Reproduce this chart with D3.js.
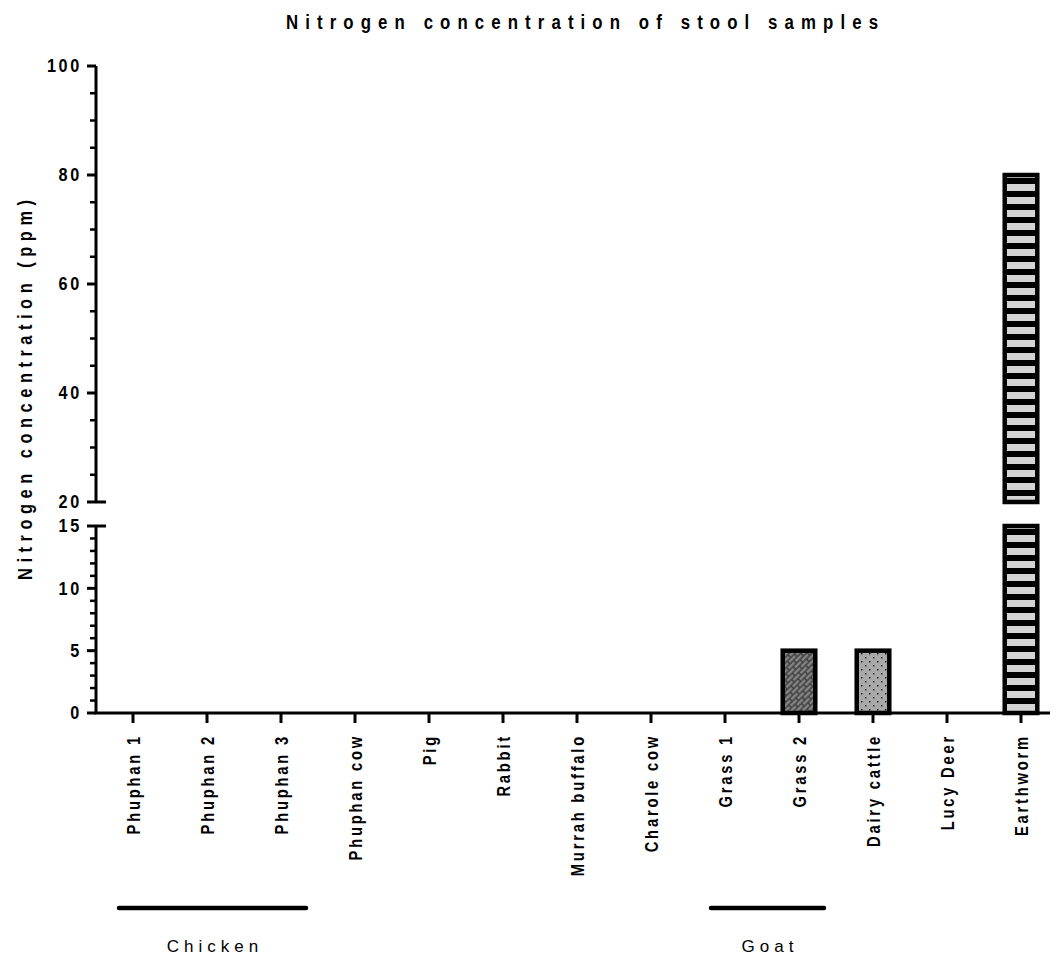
<!DOCTYPE html>
<html>
<head>
<meta charset="utf-8">
<title>Nitrogen concentration</title>
<script src="https://d3js.org/d3.v7.min.js"></script>
<style>
  body { margin: 0; background: #fff; }
  svg text { font-family: "Liberation Sans", Arial, sans-serif; fill: #000; }
</style>
</head>
<body>
<div id="chart"></div>
<script>
// data
const categories = ["Phuphan 1", "Phuphan 2", "Phuphan 3", "Phuphan cow", "Pig", "Rabbit",
  "Murrah buffalo", "Charole cow", "Grass 1", "Grass 2", "Dairy cattle", "Lucy Deer", "Earthworm"];
const values = [0, 0, 0, 0, 0, 0, 0, 0, 0, 5, 5, 0, 80];
const fills = ["none", "none", "none", "none", "none", "none", "none", "none", "none",
  "brick", "dots", "none", "stripes"];
const topTicks = [20, 40, 60, 80, 100];
const bottomTicks = [0, 5, 10, 15];
const groups = [
  { name: "Chicken", from: "Phuphan 1", to: "Phuphan 3" },
  { name: "Goat", from: "Grass 1", to: "Grass 2" }
];

const W = 1061, H = 959;
const axisX = 96;

const svg = d3.select("#chart").append("svg")
  .attr("width", W).attr("height", H);

const defs = svg.append("defs");

// brick pattern (dark grey, diagonal)
const brick = defs.append("pattern").attr("id", "brick")
  .attr("patternUnits", "userSpaceOnUse").attr("width", 10).attr("height", 8)
  .attr("patternTransform", "rotate(-45)");
brick.append("rect").attr("width", 10).attr("height", 8).attr("fill", "#3a3a3a");
brick.append("rect").attr("x", 0).attr("y", 0.8).attr("width", 8.6).attr("height", 2.6).attr("fill", "#858585");
brick.append("rect").attr("x", 5).attr("y", 4.8).attr("width", 8.6).attr("height", 2.6).attr("fill", "#858585");
brick.append("rect").attr("x", -5).attr("y", 4.8).attr("width", 8.6).attr("height", 2.6).attr("fill", "#858585");

// dotted pattern
const dots = defs.append("pattern").attr("id", "dots")
  .attr("patternUnits", "userSpaceOnUse").attr("width", 8).attr("height", 8);
dots.append("rect").attr("width", 8).attr("height", 8).attr("fill", "#a9a9a9");
dots.append("rect").attr("x", 1).attr("y", 1).attr("width", 1.4).attr("height", 1.4).attr("fill", "#000");
dots.append("rect").attr("x", 5).attr("y", 5).attr("width", 1.4).attr("height", 1.4).attr("fill", "#000");

// horizontal stripes
const stripes = defs.append("pattern").attr("id", "stripes")
  .attr("patternUnits", "userSpaceOnUse").attr("width", 20).attr("height", 13)
  .attr("y", 2);
stripes.append("rect").attr("width", 20).attr("height", 13).attr("fill", "#d4d4d4");
stripes.append("rect").attr("y", 7).attr("width", 20).attr("height", 6).attr("fill", "#000");

// scales: broken y axis
const yTop = d3.scaleLinear().domain([20, 100]).range([502, 66]);
const yBot = d3.scaleLinear().domain([0, 15]).range([713, 526]);
const x = d3.scalePoint().domain(categories).range([133, 1021]);
const barW = x.step() * 0.44;

// title
svg.append("text")
  .attr("transform", "translate(582,29) scale(0.8,1)")
  .attr("text-anchor", "middle")
  .attr("font-size", 21).attr("font-weight", "bold")
  .attr("textLength", 592 / 0.8).attr("lengthAdjust", "spacing")
  .text("Nitrogen concentration of stool samples");

// y label
svg.append("text")
  .attr("transform", `translate(32,390) rotate(-90) scale(0.82,1)`)
  .attr("text-anchor", "middle")
  .attr("font-size", 20).attr("font-weight", "bold")
  .attr("textLength", 380 / 0.82).attr("lengthAdjust", "spacing")
  .text("Nitrogen concentration (ppm)");

// bars
const bars = svg.append("g");
categories.forEach((c, i) => {
  const v = values[i];
  if (v <= 0) return;
  const fill = fills[i] === "none" ? "#fff" : `url(#${fills[i]})`;
  const bx = x(c) - barW / 2;
  const lowTop = Math.min(v, 15);
  bars.append("rect")
    .attr("x", bx).attr("y", yBot(lowTop))
    .attr("width", barW).attr("height", yBot(0) - yBot(lowTop))
    .attr("fill", fill).attr("stroke", "#000").attr("stroke-width", 4.5);
  if (v > 20) {
    bars.append("rect")
      .attr("x", bx).attr("y", yTop(v))
      .attr("width", barW).attr("height", yTop(20) - yTop(v))
      .attr("fill", fill).attr("stroke", "#000").attr("stroke-width", 4.5);
  }
});

// y axes
function drawAxis(scale, majors, minorStep, breakValue) {
  const g = svg.append("g").attr("transform", `translate(${axisX},0)`);
  const [d0, d1] = scale.domain();
  g.append("line")
    .attr("y1", scale(d0)).attr("y2", scale(d1))
    .attr("stroke", "#000").attr("stroke-width", 3);
  const minors = d3.range(d0, d1 + 0.001, minorStep).filter(v => !majors.includes(v));
  g.selectAll(".minor").data(minors).join("line")
    .attr("x1", -6).attr("x2", 0)
    .attr("y1", d => scale(d)).attr("y2", d => scale(d))
    .attr("stroke", "#000").attr("stroke-width", 2.5);
  g.selectAll(".major").data(majors).join("line")
    .attr("x1", -9).attr("x2", d => d === breakValue ? 10 : 0)
    .attr("y1", d => scale(d)).attr("y2", d => scale(d))
    .attr("stroke", "#000").attr("stroke-width", 3);
  g.selectAll("text").data(majors).join("text")
    .attr("transform", d => `translate(-14,${scale(d)}) scale(0.9,1)`)
    .attr("dy", "0.36em")
    .attr("text-anchor", "end")
    .attr("font-size", 18).attr("font-weight", "bold")
    .attr("letter-spacing", 3)
    .text(d => d);
}
drawAxis(yTop, topTicks, 5, 20);
drawAxis(yBot, bottomTicks, 1, 15);

// x axis
const xg = svg.append("g");
xg.append("line")
  .attr("x1", axisX - 1.5).attr("x2", 1050)
  .attr("y1", yBot(0)).attr("y2", yBot(0))
  .attr("stroke", "#000").attr("stroke-width", 3);
xg.selectAll(".tick").data(categories).join("line")
  .attr("x1", d => x(d)).attr("x2", d => x(d))
  .attr("y1", yBot(0)).attr("y2", yBot(0) + 10)
  .attr("stroke", "#000").attr("stroke-width", 3);
xg.selectAll("text").data(categories).join("text")
  .attr("transform", d => `translate(${x(d) + 6.5},${yBot(0) + 21}) rotate(-90) scale(0.82,1)`)
  .attr("text-anchor", "end")
  .attr("font-size", 18).attr("font-weight", "bold")
  .attr("letter-spacing", 3.4)
  .text(d => d);

// group brackets
groups.forEach(gr => {
  const x1 = x(gr.from) - 14, x2 = x(gr.to) + 25;
  svg.append("line")
    .attr("x1", x1).attr("x2", x2).attr("y1", 908).attr("y2", 908)
    .attr("stroke", "#000").attr("stroke-width", 4.5).attr("stroke-linecap", "round");
  svg.append("text")
    .attr("x", (x1 + x2) / 2 + 2.5).attr("y", 952)
    .attr("text-anchor", "middle")
    .attr("font-size", 17)
    .attr("letter-spacing", 5)
    .text(gr.name);
});
</script>
</body>
</html>
